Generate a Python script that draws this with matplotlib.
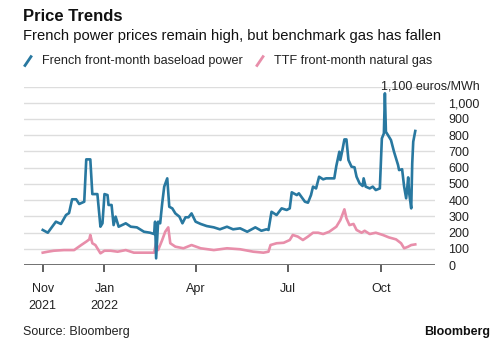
import matplotlib
matplotlib.use("Agg")
import matplotlib.pyplot as plt
from matplotlib.lines import Line2D
import pandas as pd

# French front-month baseload power (euros/MWh)
power_dates = ["2021-11-01", "2021-11-06", "2021-11-14", "2021-11-19", "2021-11-24", "2021-11-27",
               "2021-11-30", "2021-12-04", "2021-12-07", "2021-12-12", "2021-12-14", "2021-12-18",
               "2021-12-20", "2021-12-25", "2021-12-28", "2021-12-30", "2022-01-01", "2022-01-04",
               "2022-01-05", "2022-01-08", "2022-01-10", "2022-01-12", "2022-01-15", "2022-01-22",
               "2022-01-27", "2022-02-02", "2022-02-09", "2022-02-15", "2022-02-19", "2022-02-20",
               "2022-02-21", "2022-02-23", "2022-02-25", "2022-02-27", "2022-03-01", "2022-03-04",
               "2022-03-06", "2022-03-09", "2022-03-12", "2022-03-16", "2022-03-19", "2022-03-22",
               "2022-03-25", "2022-03-28", "2022-04-01", "2022-04-06", "2022-04-12", "2022-04-19",
               "2022-04-25", "2022-05-02", "2022-05-08", "2022-05-15", "2022-05-22", "2022-05-30",
               "2022-06-05", "2022-06-10", "2022-06-12", "2022-06-15", "2022-06-20", "2022-06-25",
               "2022-06-30", "2022-07-03", "2022-07-05", "2022-07-10", "2022-07-12", "2022-07-18",
               "2022-07-21", "2022-07-24", "2022-07-26", "2022-07-29", "2022-08-01", "2022-08-05",
               "2022-08-08", "2022-08-16", "2022-08-18", "2022-08-21", "2022-08-22", "2022-08-24",
               "2022-08-26", "2022-08-28", "2022-08-30", "2022-09-02", "2022-09-05", "2022-09-07",
               "2022-09-10", "2022-09-13", "2022-09-14", "2022-09-16", "2022-09-20", "2022-09-23",
               "2022-09-26", "2022-09-30", "2022-10-01", "2022-10-02", "2022-10-04", "2022-10-05",
               "2022-10-06", "2022-10-08", "2022-10-11", "2022-10-14", "2022-10-18", "2022-10-19",
               "2022-10-22", "2022-10-24", "2022-10-26", "2022-10-27", "2022-10-28", "2022-10-29",
               "2022-10-31", "2022-11-01", "2022-11-02", "2022-11-04"]
power_values = [216, 199, 267, 253, 308, 320,
                405, 405, 376, 390, 651, 651,
                437, 437, 236, 257, 437, 431,
                370, 370, 246, 298, 236, 257,
                236, 232, 205, 199, 191, 267,
                41, 267, 257, 380, 483, 534,
                359, 349, 318, 298, 257, 294,
                294, 318, 267, 253, 240, 232,
                220, 236, 220, 226, 205, 232,
                211, 220, 216, 328, 308, 349,
                339, 349, 448, 431, 442, 390,
                384, 431, 483, 472, 544, 528,
                534, 534, 610, 698, 647, 708,
                774, 774, 647, 606, 602, 544,
                503, 487, 534, 483, 472, 483,
                462, 472, 626, 780, 811, 1058,
                821, 801, 770, 698, 616, 585,
                590, 483, 411, 472, 540, 442,
                349, 626, 760, 826]

# TTF front-month natural gas (euros/MWh)
gas_dates = ["2021-11-01", "2021-11-06", "2021-11-12", "2021-11-22", "2021-12-02", "2021-12-09",
             "2021-12-14", "2021-12-17", "2021-12-18", "2021-12-20", "2021-12-23", "2021-12-28",
             "2022-01-01", "2022-01-07", "2022-01-14", "2022-01-22", "2022-01-30", "2022-02-09",
             "2022-02-19", "2022-02-21", "2022-02-23", "2022-02-27", "2022-03-02", "2022-03-05",
             "2022-03-07", "2022-03-12", "2022-03-20", "2022-03-28", "2022-04-06", "2022-04-19",
             "2022-05-02", "2022-05-15", "2022-05-28", "2022-06-07", "2022-06-12", "2022-06-14",
             "2022-06-20", "2022-06-27", "2022-07-03", "2022-07-06", "2022-07-11", "2022-07-16",
             "2022-07-21", "2022-07-26", "2022-07-31", "2022-08-05", "2022-08-11", "2022-08-18",
             "2022-08-22", "2022-08-26", "2022-08-28", "2022-08-31", "2022-09-04", "2022-09-07",
             "2022-09-12", "2022-09-15", "2022-09-20", "2022-09-26", "2022-10-03", "2022-10-09",
             "2022-10-16", "2022-10-21", "2022-10-24", "2022-10-28", "2022-10-31", "2022-11-04"]
gas_values = [76, 82, 88, 92, 92, 123,
              144, 158, 185, 134, 123, 72,
              88, 88, 82, 92, 76, 76,
              76, 137, 92, 154, 205, 232,
              134, 113, 103, 123, 103, 92,
              103, 97, 82, 76, 82, 123,
              134, 137, 154, 185, 175, 154,
              175, 199, 199, 191, 205, 236,
              277, 343, 288, 246, 253, 216,
              199, 211, 191, 199, 185, 170,
              158, 134, 103, 113, 123, 127]

y_ticks = [0, 100, 200, 300, 400, 500, 600, 700, 800, 900, 1000]
y_labels = ["0", "100", "200", "300", "400", "500", "600", "700", "800", "900", "1,000"]
x_ticks = ["2021-11-01", "2022-01-01", "2022-04-01", "2022-07-01", "2022-10-01"]
x_labels = ["Nov\n2021", "Jan\n2022", "Apr", "Jul", "Oct"]

BLUE = "#2878a0"
PINK = "#e88eaa"
TXT = "#222222"

plt.rcParams['font.family'] = ['Liberation Sans', 'DejaVu Sans']

fig = plt.figure(figsize=(5, 3.54), dpi=100)
ax = fig.add_axes([0.047, 0.2514, 0.822, 0.5042])

ax.plot(pd.to_datetime(gas_dates), gas_values, color=PINK, lw=1.9, solid_joinstyle="round")
ax.plot(pd.to_datetime(power_dates), power_values, color=BLUE, lw=1.9, solid_joinstyle="round")

ax.set_xlim(pd.Timestamp("2021-10-13"), pd.Timestamp("2022-11-23"))
ax.set_ylim(0, 1100)

for v in range(100, 1200, 100):
    ax.axhline(v, color="#dddddd", lw=1.0, zorder=0)
ax.axhline(0, color="#666666", lw=1.3, zorder=1)

for s in ax.spines.values():
    s.set_visible(False)

ax.yaxis.tick_right()
ax.set_yticks(y_ticks)
ax.set_yticklabels(y_labels)
ax.tick_params(axis="y", length=0, pad=10, labelsize=9, labelcolor=TXT)
for lbl in ax.get_yticklabels():
    lbl.set_horizontalalignment("left")

ax.set_xticks(pd.to_datetime(x_ticks))
ax.set_xticklabels(x_labels, linespacing=1.5)
ax.tick_params(axis="x", length=5, width=1.2, color="#444444", direction="out",
               pad=8, labelsize=9, labelcolor=TXT)

ax.text(1.111, 1.0, "1,100 euros/MWh", transform=ax.transAxes, ha="right", va="center",
        fontsize=9, color=TXT)

fig.text(0.046, 0.952, "Price Trends", fontsize=12, fontweight="bold", color="#111111",
         va="center")
fig.text(0.046, 0.898, "French power prices remain high, but benchmark gas has fallen",
         fontsize=10.6, color="#111111", va="center")

fig.add_artist(Line2D([0.050, 0.062], [0.815, 0.840], color=BLUE, lw=2, transform=fig.transFigure))
fig.text(0.084, 0.828, "French front-month baseload power", fontsize=9.1, color=TXT, va="center")
fig.add_artist(Line2D([0.514, 0.526], [0.815, 0.840], color=PINK, lw=2, transform=fig.transFigure))
fig.text(0.547, 0.828, "TTF front-month natural gas", fontsize=9.1, color=TXT, va="center")

fig.text(0.046, 0.061, "Source: Bloomberg", fontsize=9, color=TXT, va="center")
fig.text(0.98, 0.061, "Bloomberg", fontsize=9, fontweight="bold", color="#111111",
         va="center", ha="right")

fig.savefig("out.png", dpi=100, facecolor="white")
